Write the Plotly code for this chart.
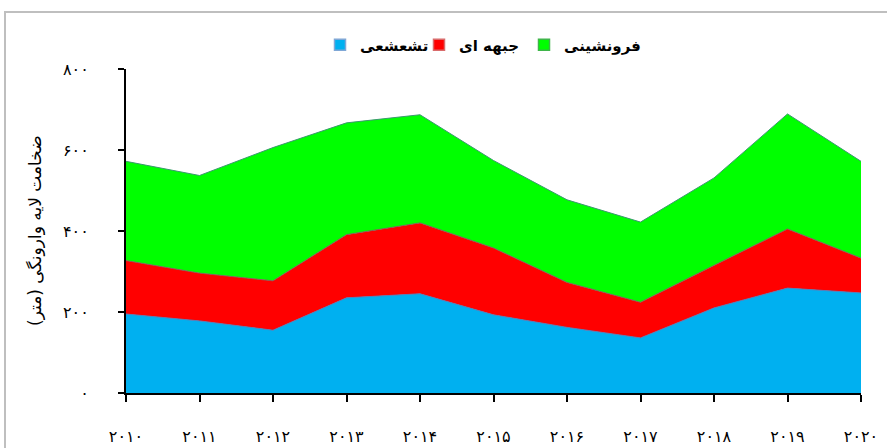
import plotly.graph_objects as go

years = [2010, 2011, 2012, 2013, 2014, 2015, 2016, 2017, 2018, 2019, 2020]
year_labels = ["۲۰۱۰", "۲۰۱۱", "۲۰۱۲", "۲۰۱۳", "۲۰۱۴", "۲۰۱۵", "۲۰۱۶", "۲۰۱۷", "۲۰۱۸", "۲۰۱۹", "۲۰۲۰"]

radiative = [195, 178, 155, 235, 245, 193, 162, 136, 210, 259, 247]      # تشعشعی
frontal = [132, 118, 122, 156, 175, 165, 111, 88, 105, 146, 86]          # جبهه ای
subsidence = [245, 241, 329, 276, 267, 216, 204, 198, 216, 284, 239]     # فرونشینی

y_ticks = [0, 200, 400, 600, 800]
y_tick_labels = ["۰", "۲۰۰", "۴۰۰", "۶۰۰", "۸۰۰"]

series_names = ["تشعشعی", "جبهه ای", "فرونشینی"]
fill_colors = ["#00B0F0", "#FF0000", "#00FF00"]
line_colors = ["#4F81BD", "#8C5A5A", "#3A9A6E"]
legend_edge = ["#7FA7D6", "#D96B6B", "#3FB54A"]

FONT = "DejaVu Sans"

W, H = 887, 448
ml, mr, mt, mb = 126, 26, 69, 55
pw, ph = W - ml - mr, H - mt - mb

fig = go.Figure()
for name, vals, fc, lc in zip(series_names, [radiative, frontal, subsidence], fill_colors, line_colors):
    fig.add_trace(go.Scatter(
        x=years, y=vals, name=name, mode="lines",
        stackgroup="one", fillcolor=fc,
        line=dict(color=lc, width=1),
        hoverinfo="x+y+name", showlegend=False,
    ))

# legend entries drawn as small squares, one legend per entry so spacing matches
legend_ids = ["legend", "legend2", "legend3"]
legend_px = [320, 419, 524]
for name, fc, ec, lid in zip(series_names, fill_colors, legend_edge, legend_ids):
    fig.add_trace(go.Scatter(
        x=[None], y=[None], name=name, mode="markers",
        marker=dict(symbol="square", size=11, color=fc, line=dict(color=ec, width=1.5)),
        showlegend=True, legend=lid,
    ))

legend_common = dict(
    orientation="h", yanchor="middle", xanchor="left",
    y=(H - mb - 45) / ph,
    font=dict(family=FONT, size=15, color="#000000", weight="bold"),
    itemwidth=30, bgcolor="rgba(0,0,0,0)",
)

fig.update_layout(
    width=W, height=H,
    margin=dict(l=ml, r=mr, t=mt, b=mb, autoexpand=False),
    paper_bgcolor="white", plot_bgcolor="white",
    font=dict(family=FONT, color="#000000"),
    showlegend=True,
    legend=dict(x=(legend_px[0] - ml) / pw, **legend_common),
    legend2=dict(x=(legend_px[1] - ml) / pw, **legend_common),
    legend3=dict(x=(legend_px[2] - ml) / pw, **legend_common),
    xaxis=dict(
        range=[2010, 2020], automargin=False,
        tickvals=years, ticktext=year_labels,
        showgrid=False, zeroline=False,
        showline=True, linecolor="#000000", linewidth=2,
        ticks="outside", ticklen=7, tickwidth=2, tickcolor="#000000",
        tickfont=dict(family=FONT, size=16, color="#000000"),
        ticklabelstandoff=21,
    ),
    yaxis=dict(
        range=[0, 800], automargin=False,
        tickvals=y_ticks, ticktext=y_tick_labels,
        showgrid=False, zeroline=False,
        showline=True, linecolor="#000000", linewidth=2,
        ticks="outside", ticklen=6, tickwidth=2, tickcolor="#000000",
        tickfont=dict(family=FONT, size=16, color="#000000"),
        ticklabelstandoff=26,
    ),
    annotations=[dict(
        text="ضخامت لایه وارونگی (متر)",
        xref="paper", yref="paper",
        x=(35 - ml) / pw, y=0.5,
        xanchor="center", yanchor="middle",
        textangle=-90, showarrow=False,
        font=dict(family=FONT, size=17, color="#000000"),
    )],
    shapes=[dict(
        type="rect", xref="paper", yref="paper",
        x0=(5 - ml) / pw, x1=(W + 20 - ml) / pw,
        y0=(H - mb - (H + 20)) / ph, y1=(H - mb - 12) / ph,
        line=dict(color="#BFBFBF", width=2), layer="below",
    )],
)

fig.write_html("out.html", config={"displayModeBar": False},
               post_script="document.body.style.margin='0';")
